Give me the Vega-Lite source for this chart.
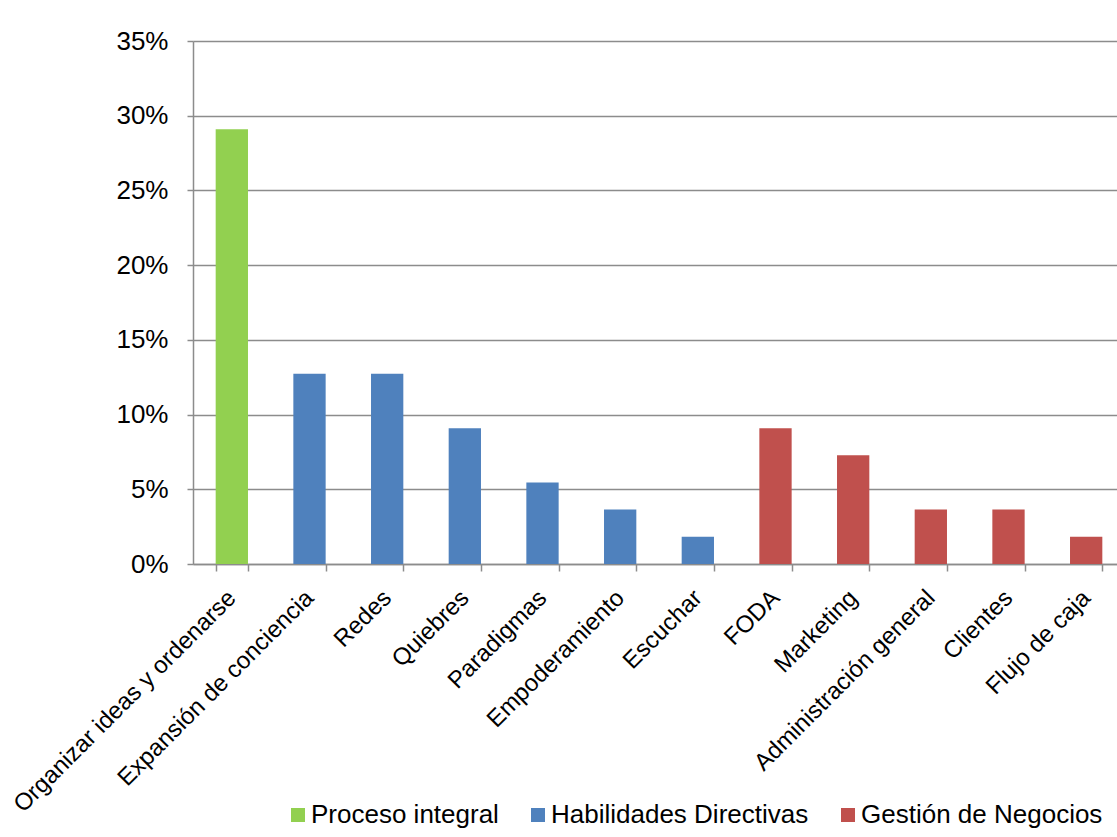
{
  "$schema": "https://vega.github.io/schema/vega-lite/v6.json",
  "width": 924,
  "height": 523,
  "autosize": {"type": "none"},
  "padding": {"left": 193, "top": 41, "right": 0, "bottom": 273},
  "background": "white",
  "config": {
    "font": "Liberation Sans",
    "view": {"stroke": null}
  },
  "data": {
    "values": [
      {"tema": "Organizar ideas y ordenarse", "grupo": "Proceso integral", "pct": 0.2909},
      {"tema": "Expansión de conciencia", "grupo": "Habilidades Directivas", "pct": 0.1273},
      {"tema": "Redes", "grupo": "Habilidades Directivas", "pct": 0.1273},
      {"tema": "Quiebres", "grupo": "Habilidades Directivas", "pct": 0.0909},
      {"tema": "Paradigmas", "grupo": "Habilidades Directivas", "pct": 0.0545},
      {"tema": "Empoderamiento", "grupo": "Habilidades Directivas", "pct": 0.0364},
      {"tema": "Escuchar", "grupo": "Habilidades Directivas", "pct": 0.0182},
      {"tema": "FODA", "grupo": "Gestión de Negocios", "pct": 0.0909},
      {"tema": "Marketing", "grupo": "Gestión de Negocios", "pct": 0.0727},
      {"tema": "Administración general", "grupo": "Gestión de Negocios", "pct": 0.0364},
      {"tema": "Clientes", "grupo": "Gestión de Negocios", "pct": 0.0364},
      {"tema": "Flujo de caja", "grupo": "Gestión de Negocios", "pct": 0.0182}
    ]
  },
  "mark": {"type": "bar"},
  "encoding": {
    "x": {
      "field": "tema",
      "type": "nominal",
      "sort": null,
      "title": null,
      "scale": {"range": [0, 932], "paddingInner": 0.584, "paddingOuter": 0.292},
      "axis": {
        "tickBand": "extent",
        "grid": false,
        "domainColor": "#8c8c8c",
        "domainWidth": 1.5,
        "tickColor": "#8c8c8c",
        "tickWidth": 1.5,
        "tickSize": 7,
        "labelAngle": -45,
        "labelAlign": "right",
        "labelBaseline": "middle",
        "labelFontSize": 24,
        "labelColor": "#000000",
        "labelPadding": 23,
        "labelLimit": 500
      }
    },
    "y": {
      "field": "pct",
      "type": "quantitative",
      "title": null,
      "scale": {"domain": [0, 0.35], "nice": false},
      "axis": {
        "values": [0, 0.05, 0.1, 0.15, 0.2, 0.25, 0.3, 0.35],
        "format": ".0%",
        "grid": true,
        "gridColor": "#8c8c8c",
        "gridWidth": 1.5,
        "domainColor": "#8c8c8c",
        "domainWidth": 1.5,
        "tickColor": "#8c8c8c",
        "tickWidth": 1.5,
        "tickSize": 6,
        "labelFontSize": 26,
        "labelColor": "#000000",
        "labelPadding": 19
      }
    },
    "color": {
      "field": "grupo",
      "type": "nominal",
      "scale": {
        "domain": ["Proceso integral", "Habilidades Directivas", "Gestión de Negocios"],
        "range": ["#92D050", "#4F81BD", "#C0504D"]
      },
      "legend": {
        "title": null,
        "orient": "none",
        "direction": "horizontal",
        "legendX": 92,
        "legendY": 761,
        "padding": 0,
        "symbolType": "square",
        "symbolSize": 196,
        "symbolStrokeWidth": 0,
        "labelFontSize": 26,
        "labelColor": "#000000",
        "labelOffset": 0,
        "columnPadding": 26,
        "labelLimit": 400
      }
    }
  }
}
